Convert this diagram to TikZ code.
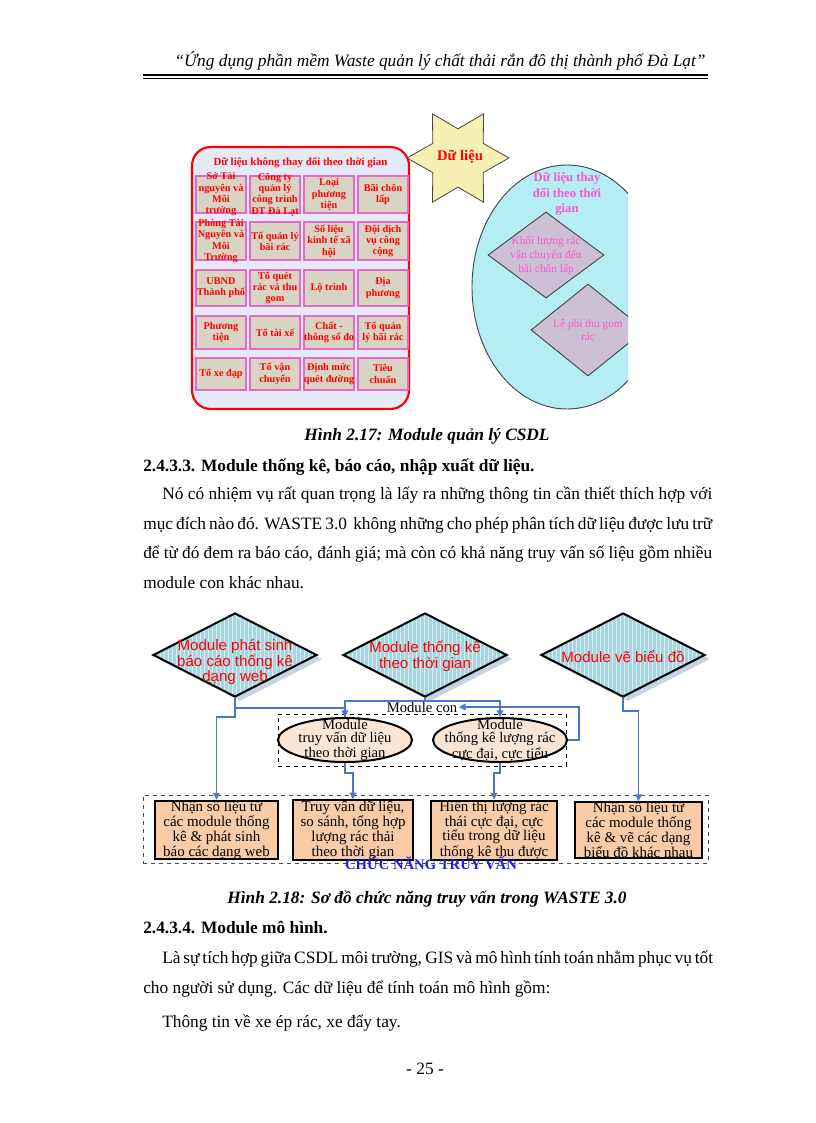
\documentclass[tikz,border=0pt]{standalone}
\usepackage{fontspec}
\setmainfont{Liberation Serif}
\newfontfamily\arialf{Liberation Sans}
\usetikzlibrary{shapes.geometric,patterns,arrows.meta}
\definecolor{redtxt}{HTML}{FF0000}
\definecolor{boxpink}{HTML}{E868C8}
\definecolor{boxfill}{HTML}{D8D4C4}
\definecolor{rectfill}{HTML}{E4EAF8}
\definecolor{starfill}{HTML}{F6F0B4}
\definecolor{darkline}{HTML}{404848}
\definecolor{ellcyan}{HTML}{B4EEF4}
\definecolor{diafill}{HTML}{CDBFD6}
\definecolor{pinktxt}{HTML}{FF55CC}
\definecolor{diablue}{HTML}{A8D6E0}
\definecolor{stripe}{HTML}{D6EEF2}
\definecolor{shadowc}{HTML}{C4D4E4}
\definecolor{lineblue}{HTML}{4A78C8}
\definecolor{peach}{HTML}{F9CBA6}
\definecolor{ellpeach}{HTML}{FBE6D6}
\definecolor{titleblue}{HTML}{1E1EE6}
\newcommand\gbx[5]{\node[gbox, minimum height=#4] (#1) at (#2,#3) {}; \node[gtext] (#1t) at (#2,#3) {#5};}
\begin{document}
\begin{tikzpicture}[x=0.75pt,y=-0.75pt,
  body/.style={inner sep=0pt, anchor=base west, font=\fontsize{13}{15}\selectfont},
  gbox/.style={draw=boxpink, line width=0.8pt, fill=boxfill, minimum width=37.5pt, inner sep=0pt},
  gtext/.style={inner sep=0pt, align=center, font=\fontsize{7.7}{8.5}\selectfont\bfseries, text=redtxt},
  bigdia/.style={diamond, draw=black, line width=1.5pt, preaction={fill=diablue}, pattern=vertical lines, pattern color=stripe, minimum width=123pt, minimum height=63pt, inner sep=0pt},
  diashadow/.style={diamond, fill=shadowc, minimum width=123pt, minimum height=63pt, inner sep=0pt},
  diatext/.style={inner sep=0pt, align=center, text=redtxt, font=\arialf\fontsize{11.3}{9.9}\selectfont},
  modell/.style={ellipse, draw=black, line width=1.5pt, fill=ellpeach, minimum width=100.5pt, minimum height=33pt, inner sep=0pt},
  elltext/.style={inner sep=0pt, align=center, font=\fontsize{11}{9.9}\selectfont},
  fbox/.style={draw=black, line width=1.5pt, fill=peach, minimum height=40.5pt, inner sep=0pt, align=center, font=\fontsize{11.2}{9.7}\selectfont},
  bl/.style={draw=lineblue, line width=1.4pt},
  arr/.style={-{Triangle[length=5pt,width=5pt]}}
]
\useasboundingbox (0,0) rectangle (816,1123);
\fill[white] (0,0) rectangle (816,1123);

% header
\node[inner sep=0pt, anchor=base, font=\fontsize{13}{15}\selectfont\itshape] (header) at (440,67) {“Ứng dụng phần mềm Waste quản lý chất thải rắn đô thị thành phố Đà Lạt”};
\draw[line width=1.6pt] (143,75) -- (708,75);
\draw[line width=0.4pt] (143,78.5) -- (708,78.5);

% ---------- Figure 2.17 ----------
\node[draw=redtxt, line width=1.6pt, rounded corners=14pt, fill=rectfill, minimum width=162.75pt, minimum height=196.5pt, inner sep=0pt] (rect) at (300.5,278) {};
\node[inner sep=0pt, font=\fontsize{8.2}{9}\selectfont\bfseries, text=redtxt] (recttitle) at (300.5,163) {Dữ liệu không thay đổi theo thời gian};

\gbx{g11}{221}{194.5}{27.75pt}{Sở Tài\\nguyên và\\Môi\\trường}
\gbx{g12}{275}{194.5}{27.75pt}{Công ty\\quản lý\\công trình\\ĐT Đà Lạt}
\gbx{g13}{329}{194.5}{27.75pt}{Loại\\phương\\tiện}
\gbx{g14}{383}{194.5}{27.75pt}{Bãi chôn\\lấp}
\gbx{g21}{221}{241}{28.5pt}{Phòng Tài\\Nguyên và\\Môi\\Trường}
\gbx{g22}{275}{241}{28.5pt}{Tổ quản lý\\bãi rác}
\gbx{g23}{329}{241}{28.5pt}{Số liệu\\kinh tế xã\\hội}
\gbx{g24}{383}{241}{28.5pt}{Đội dịch\\vụ công\\cộng}
\gbx{g31}{221}{288}{27pt}{UBND\\Thành phố}
\gbx{g32}{275}{288}{27pt}{Tổ quét\\rác và thu\\gom}
\gbx{g33}{329}{288}{27pt}{Lộ trình}
\gbx{g34}{383}{288}{27pt}{Địa\\phương}
\gbx{g41}{221}{332.5}{24.75pt}{Phương\\tiện}
\gbx{g42}{275}{332.5}{24.75pt}{Tổ tài xế}
\gbx{g43}{329}{332.5}{24.75pt}{Chất -\\thông số đo}
\gbx{g44}{383}{332.5}{24.75pt}{Tổ quản\\lý bãi rác}
\gbx{g51}{221}{374}{24pt}{Tổ xe đạp}
\gbx{g52}{275}{374}{24pt}{Tổ vận\\chuyển}
\gbx{g53}{329}{374}{24pt}{Định mức\\quét đường}
\gbx{g54}{383}{374}{24pt}{Tiêu\\chuẩn}

\node[star, star points=6, star point ratio=1.75, minimum size=76.5pt, inner sep=0pt, shape border rotate=90, draw=darkline, line width=0.6pt, fill=starfill] (star) at (458,158) {};
\node[inner sep=0pt, font=\fontsize{11}{12}\selectfont\bfseries, text=redtxt] (startxt) at (460,157) {Dữ liệu};

\begin{scope}
\clip (400,100) rectangle (628,430);
\node[ellipse, draw=darkline, line width=0.7pt, fill=ellcyan, minimum width=142.5pt, minimum height=183pt, inner sep=0pt] (bigell) at (567,287) {};
\node[diamond, draw=darkline, line width=0.7pt, fill=diafill, minimum width=87pt, minimum height=64.5pt, inner sep=0pt] (kd1) at (546,255) {};
\node[diamond, draw=darkline, line width=0.7pt, fill=diafill, minimum width=85.5pt, minimum height=69pt, inner sep=0pt] (kd2) at (588,330) {};
\end{scope}
\node[inner sep=0pt, align=center, font=\fontsize{9.5}{11.6}\selectfont\bfseries, text=pinktxt] (elltitle) at (567,194) {Dữ liệu thay\\đổi theo thời\\gian};
\node[inner sep=0pt, align=center, font=\fontsize{8.5}{10.5}\selectfont, text=pinktxt] (kd1t) at (546,256) {Khối lượng rác\\vận chuyển đến\\bãi chôn lấp};
\node[inner sep=0pt, align=center, font=\fontsize{8.5}{10}\selectfont, text=pinktxt] (kd2t) at (588,330) {Lệ phí thu gom\\rác};

\node[inner sep=0pt, anchor=base, font=\fontsize{13}{15}\selectfont\bfseries\itshape] (cap1) at (427,440) {Hình 2.17: Module quản lý CSDL};

% ---------- text ----------
\node[body, font=\fontsize{13}{15}\selectfont\bfseries] (h1) at (143,471) {2.4.3.3. Module thống kê, báo cáo, nhập xuất dữ liệu.};
\node[body] (p1) at (162,499) {\makebox[412.5pt][s]{Nó có nhiệm vụ rất quan trọng là lấy ra những thông tin cần thiết thích hợp với}};
\node[body] (p2) at (143,529) {\makebox[426.75pt][s]{mục đích nào đó. WASTE 3.0\ \ không những cho phép phân tích dữ liệu được lưu trữ}};
\node[body] (p3) at (143,558) {\makebox[426.75pt][s]{để từ đó đem ra báo cáo, đánh giá; mà còn có khả năng truy vấn số liệu gồm nhiều}};
\node[body] (p4) at (143,588) {module con khác nhau.};

% ---------- Figure 2.18 ----------
\node[diashadow] (sA) at (240,659) {};
\node[diashadow] (sB) at (430,659) {};
\node[diashadow] (sC) at (628,659) {};
\node[bigdia] (dA) at (235,655) {};
\node[bigdia] (dB) at (425,655) {};
\node[bigdia] (dC) at (623,655) {};
\node[diatext] (dAt) at (235,662) {Module phát sinh\\báo cáo thống kê\\dạng web};
\node[diatext] (dBt) at (425,656) {Module thống kê\\theo thời gian};
\node[diatext] (dCt) at (623,656) {Module vẽ biểu đồ};

\node[draw=black, dashed, line width=0.7pt, minimum width=216pt, minimum height=39pt, inner sep=0pt] (midbox) at (422,740) {};
\node[draw=black!70, dashed, line width=0.7pt, minimum width=423.75pt, minimum height=51pt, inner sep=0pt] (botbox) at (425.5,829) {};

\node[modell] (e1) at (345,740) {};
\node[modell] (e2) at (500,740) {};
\node[elltext] (e1t) at (345,740) {Module\\truy vấn dữ liệu\\theo thời gian};
\node[elltext] (e2t) at (500,740) {Module\\thống kê lượng rác\\cực đại, cực tiểu};

\node[inner sep=1pt, fill=white, font=\fontsize{11}{12}\selectfont] (mcon) at (422,707) {Module con};

\node[fbox, minimum width=92.25pt] (b1) at (216.5,830) {Nhận số liệu từ\\các module thống\\kê \& phát sinh\\báo các dạng web};
\node[fbox, minimum width=90pt] (b2) at (353,830) {Truy vấn dữ liệu,\\so sánh, tổng hợp\\lượng rác thải\\theo thời gian};
\node[fbox, minimum width=94.5pt] (b3) at (494,830) {Hiển thị lượng rác\\thái cực đại, cực\\tiểu trong dữ liệu\\thống kê thu được};
\node[fbox, minimum width=95.25pt] (b4) at (638.5,830) {Nhận số liệu từ\\các module thống\\kê \& vẽ các dạng\\biểu đồ khác nhau};

\node[inner sep=0pt, font=\fontsize{11}{12}\selectfont\bfseries, text=titleblue] (cntv) at (431,863) {CHỨC NĂNG TRUY VẤN};

% connectors
\draw[bl, arr] (dB.south) -- ++(0,3) -| (e1.north);
\draw[bl, arr] (dB.south) -- ++(0,3) -| (e2.north);
\draw[bl] (dA.south) -- ++(0,10) -| (e1.north);
\draw[bl, arr] (dA.south) -- ++(0,19) -| (b1.north);
\draw[bl, arr] (e1.south) -- ++(0,10) -| (b2.north);
\draw[bl, arr] (e2.south) -- ++(0,10) -| (b3.north);
\draw[bl, arr] (dC.south) -- ++(0,13) -| (b4.north);
\draw[bl, arr] (e2.east) -- ++(11,0) |- (mcon.east);

\node[inner sep=0pt, anchor=base, font=\fontsize{13}{15}\selectfont\bfseries\itshape] (cap2) at (427,903) {Hình 2.18: Sơ đồ chức năng truy vấn trong WASTE 3.0};

\node[body, font=\fontsize{13}{15}\selectfont\bfseries] (h2) at (143,933) {2.4.3.4. Module mô hình.};
\node[body] (q1) at (162,963) {\makebox[412.5pt][s]{Là sự tích hợp giữa CSDL môi trường, GIS và mô hình tính toán nhằm phục vụ tốt}};
\node[body] (q2) at (143,993) {cho người sử dụng. Các dữ liệu để tính toán mô hình gồm:};
\node[body] (q3) at (162,1027) {Thông tin về xe ép rác, xe đẩy tay.};

\node[inner sep=0pt, anchor=base, font=\fontsize{13}{15}\selectfont] (footer) at (425,1074) {- 25 -};
\end{tikzpicture}
\end{document}
